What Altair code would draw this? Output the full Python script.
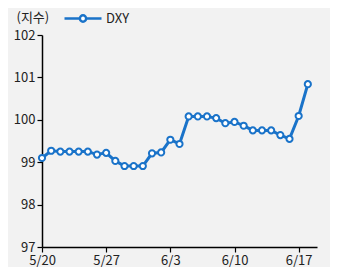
import altair as alt
import pandas as pd

dates = pd.date_range("2024-05-20", periods=30, freq="D").strftime("%Y-%m-%dT00:00:00").tolist()
values = [99.10, 99.27, 99.25, 99.25, 99.25, 99.25, 99.18, 99.22, 99.03, 98.91,
          98.91, 98.91, 99.21, 99.23, 99.53, 99.43, 100.08, 100.08, 100.08, 100.04,
          99.92, 99.95, 99.86, 99.75, 99.75, 99.75, 99.64, 99.55, 100.09, 100.84]
series = ["DXY"] * len(values)
tick_dates = ["2024-05-20", "2024-05-27", "2024-06-03", "2024-06-10", "2024-06-17"]

df = pd.DataFrame({"date": dates, "value": values, "series": series})

BLUE = "#1a73c9"
FONT = "Noto Sans CJK KR"

legend_path = ("M-1,0L-0.17,0M0.17,0L1,0"
               "M-0.17,0A0.17,0.17,0,1,1,0.17,0A0.17,0.17,0,1,1,-0.17,0Z")

x_enc = alt.X(
    "date:T",
    scale=alt.Scale(domain=[alt.DateTime(year=2024, month=5, date=20),
                            alt.DateTime(year=2024, month=6, date=19)]),
    axis=alt.Axis(
        title=None,
        values=[alt.DateTime(year=int(d[:4]), month=int(d[5:7]), date=int(d[8:10])) for d in tick_dates],
        format="%-m/%-d",
        grid=False,
        tickSize=5,
        labelPadding=2,
        labelFlush=False,
    ),
)
y_enc = alt.Y(
    "value:Q",
    scale=alt.Scale(domain=[97, 102], nice=False, zero=False),
    axis=alt.Axis(
        title="(지수)",
        titleAngle=0,
        titleAlign="left",
        titleBaseline="middle",
        titleX=-26,
        titleY=-18,
        titleFontWeight="normal",
        titleFontSize=13,
        titleColor="#222222",
        values=[97, 98, 99, 100, 101, 102],
        grid=False,
        tickSize=5,
        labelPadding=2,
    ),
)
color_enc = alt.Color(
    "series:N",
    scale=alt.Scale(domain=["DXY"], range=[BLUE]),
    legend=alt.Legend(
        title=None,
        orient="none",
        legendX=21,
        legendY=-36.5,
        symbolType=legend_path,
        symbolSize=1369,
        symbolStrokeColor=BLUE,
        symbolFillColor="white",
        symbolStrokeWidth=2.5,
        labelFontSize=13,
        labelFont=FONT,
        labelColor="#222222",
        labelOffset=3,
        padding=0,
    ),
)

line = alt.Chart(df).mark_line(strokeWidth=3).encode(x=x_enc, y=y_enc, color=color_enc)
pts = alt.Chart(df).mark_point(filled=False, fill="white", fillOpacity=1, strokeWidth=2,
                               size=38, opacity=1, color=BLUE).encode(x="date:T", y="value:Q")

chart = alt.layer(line, pts).properties(
    width=275,
    height=212,
    autosize=alt.AutoSizeParams(type="none"),
    padding={"left": 34, "top": 27, "right": 13, "bottom": 20},
    background="#f2f2f2",
).configure_view(stroke=None).configure_axis(
    labelFont=FONT,
    titleFont=FONT,
    labelFontSize=13,
    labelColor="#222222",
    domainColor="#000000",
    tickColor="#000000",
    domainWidth=1.5,
    tickWidth=1.2,
)

chart.save("out.html", embed_options={"renderer": "svg", "actions": False})
